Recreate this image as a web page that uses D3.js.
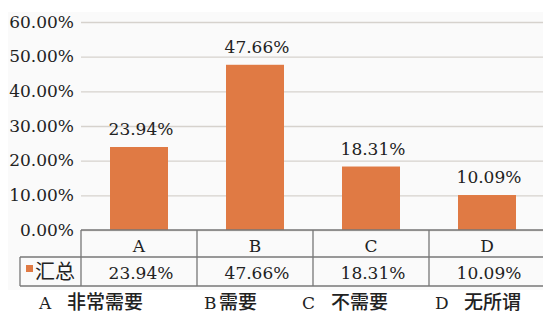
<!DOCTYPE html>
<html>
<head>
<meta charset="utf-8">
<script src="https://cdn.jsdelivr.net/npm/d3@7"></script>
<style>
  body { margin: 0; background: #fff; }
</style>
</head>
<body>
<div id="chart"></div>
<script>
// data
const categories = ["A", "B", "C", "D"];
const values = [0.2394, 0.4766, 0.1831, 0.1009];
const descriptions = ["非常需要", "需要", "不需要", "无所谓"];
const seriesName = "汇总";
const yTicks = [0, 0.1, 0.2, 0.3, 0.4, 0.5, 0.6];

const width = 543, height = 315;
const plotLeft = 81, plotRight = 545, plotTop = 22, plotBottom = 230;
const row1 = 257, row2 = 286;
const barColor = "#e07a44";
const serif = "'DejaVu Serif', serif";
const cjk = "'Noto Sans CJK SC', sans-serif";
const fmt = d3.format(".2%");

const svg = d3.select("#chart").append("svg")
  .attr("width", width)
  .attr("height", height);

// light background of the chart area
svg.append("rect")
  .attr("x", 8).attr("y", 12)
  .attr("width", width - 8).attr("height", row2 + 4 - 12)
  .attr("fill", "#fafafa");

const x = d3.scaleBand().domain(categories).range([plotLeft, plotRight]);
const y = d3.scaleLinear().domain([0, 0.6]).range([plotBottom, plotTop]);

// gridlines
const grid = svg.append("g")
  .attr("transform", "translate(" + plotLeft + ",0)")
  .call(d3.axisRight(y).tickValues(yTicks).tickSize(plotRight - plotLeft).tickFormat(""));
grid.select(".domain").remove();
grid.selectAll("line").attr("stroke", "#d6d2cd").attr("stroke-width", 1.3);

// y axis labels
const yAxis = svg.append("g")
  .attr("transform", "translate(" + (plotLeft - 7) + ",0)")
  .call(d3.axisLeft(y).tickValues(yTicks).tickSize(0).tickPadding(0).tickFormat(fmt));
yAxis.select(".domain").remove();
yAxis.selectAll("text")
  .style("font-family", serif)
  .style("font-size", "17px").attr("dy", "0.3em").attr("fill", "#222");

// bars
svg.selectAll(".bar")
  .data(values)
  .enter()
  .append("rect")
  .attr("class", "bar")
  .attr("x", (d, i) => x(categories[i]) + x.bandwidth() / 4)
  .attr("width", x.bandwidth() / 2)
  .attr("y", d => y(d))
  .attr("height", d => plotBottom - y(d))
  .attr("fill", barColor);

// value labels
svg.selectAll(".lbl")
  .data(values)
  .enter()
  .append("text")
  .attr("class", "lbl")
  .attr("x", (d, i) => x(categories[i]) + x.bandwidth() / 2 + 2)
  .attr("y", d => y(d) - 12)
  .attr("text-anchor", "middle")
  .style("font-family", serif)
  .style("font-size", "17px")
  .attr("fill", "#222")
  .text(d => fmt(d));

// data table
const lineColor = "#777";
const tbl = svg.append("g").attr("stroke", lineColor).attr("stroke-width", 1.3);
tbl.append("line").attr("x1", plotLeft).attr("x2", plotRight).attr("y1", plotBottom).attr("y2", plotBottom);
tbl.append("line").attr("x1", 20).attr("x2", plotRight).attr("y1", row1).attr("y2", row1);
tbl.append("line").attr("x1", 20).attr("x2", plotRight).attr("y1", row2).attr("y2", row2);
tbl.append("line").attr("x1", 20).attr("x2", 20).attr("y1", row1).attr("y2", row2);
categories.forEach(c => {
  tbl.append("line").attr("x1", x(c)).attr("x2", x(c)).attr("y1", plotBottom).attr("y2", row2);
});

svg.selectAll(".cat")
  .data(categories)
  .enter()
  .append("text")
  .attr("class", "cat")
  .attr("x", d => x(d) + x.bandwidth() / 2)
  .attr("y", 252)
  .attr("text-anchor", "middle")
  .style("font-family", serif)
  .style("font-size", "17px")
  .attr("fill", "#222")
  .text(d => d);

svg.selectAll(".val")
  .data(values)
  .enter()
  .append("text")
  .attr("class", "val")
  .attr("x", (d, i) => x(categories[i]) + x.bandwidth() / 2 + 2)
  .attr("y", 279)
  .attr("text-anchor", "middle")
  .style("font-family", serif)
  .style("font-size", "17px")
  .attr("fill", "#222")
  .text(d => fmt(d));

// series key in table
svg.append("rect")
  .attr("x", 26).attr("y", 265)
  .attr("width", 7).attr("height", 7)
  .attr("fill", barColor);
svg.append("text")
  .attr("x", 35).attr("y", 279)
  .style("font-family", cjk)
  .style("font-size", "20px")
  .attr("fill", "#222")
  .text(seriesName);

// bottom legend
const letterX = [39, 204, 302, 435];
const descX = [67, 219, 331, 464];
categories.forEach((c, i) => {
  svg.append("text")
    .attr("x", letterX[i]).attr("y", 309)
    .style("font-family", serif)
    .style("font-size", "17px")
    .attr("fill", "#222")
    .text(c);
  svg.append("text")
    .attr("x", descX[i]).attr("y", 309)
    .style("font-family", cjk)
    .style("font-size", "19px")
    .style("font-weight", 500)
    .attr("fill", "#222")
    .text(descriptions[i]);
});
</script>
</body>
</html>
